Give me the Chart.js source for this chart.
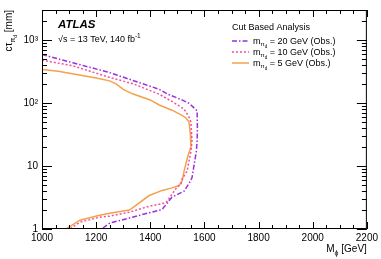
<!DOCTYPE html>
<html>
<head>
<meta charset="utf-8">
<script src="https://cdn.jsdelivr.net/npm/chart.js@4"></script>
<style>
  html, body { margin: 0; padding: 0; background: #fff; }
  #wrap { width: 381px; height: 259px; }
</style>
</head>
<body>
<div id="wrap"><canvas id="myChart" width="381" height="259"></canvas></div>
<script>
// exclusion contours
var mass5 = [1000, 1060, 1128, 1200, 1250, 1275, 1300, 1334, 1400, 1433, 1480, 1514, 1532, 1543, 1548, 1550, 1538, 1525, 1518, 1506, 1480, 1444, 1396, 1323, 1250, 1213, 1140, 1090]
var ctau5 = [340, 320, 283, 250, 225, 200, 165, 140, 112, 93, 77, 65, 58, 50, 32, 20, 14, 8.4, 5.8, 4.9, 4.5, 4.1, 3.4, 2.0, 1.78, 1.65, 1.38, 1.0]

var mass10 = [1000, 1114, 1250, 1340, 1433, 1490, 1525, 1543, 1550, 1554, 1550, 1536, 1518, 1513, 1495, 1458, 1396, 1323, 1250, 1213, 1140, 1103]
var ctau10 = [480, 390, 255, 200, 138, 100, 80, 60, 50, 25, 17, 8.3, 6.3, 5.2, 4.4, 2.6, 2.3, 1.85, 1.6, 1.54, 1.28, 1.0]

var mass20 = [1000, 1114, 1250, 1280, 1433, 1465, 1517, 1545, 1573, 1574, 1573, 1570, 1554, 1543, 1525, 1480, 1444, 1334, 1250, 1220]
var ctau20 = [590, 436, 304, 275, 165, 138, 112, 98, 75, 40, 25, 17, 6.5, 5.3, 4.0, 3.2, 2.05, 1.54, 1.24, 1.0]

var xTicks = [1000, 1200, 1400, 1600, 1800, 2000, 2200]
var yTicks = [1, 10, 100, 1000]
var yTickLabels = ['1', '10', '10²', '10³']

var purple = '#9b30d9'
var pink = '#f2509e'
var orange = '#f5a04c'

function pts(xs, ys) {
    var out = []
    for (var i = 0; i < xs.length; i++) out.push({x: xs[i], y: ys[i]})
    return out
}

var FONT = '"Liberation Sans", Arial, sans-serif'

// draws text with simple subscripts: parts = [[text, size, dy], ...]
function drawParts(ctx, parts, x, y) {
    for (var i = 0; i < parts.length; i++) {
        var p = parts[i]
        ctx.font = p[1] + 'px ' + FONT
        ctx.fillText(p[0], x, y + p[2])
        x += ctx.measureText(p[0]).width
    }
    return x
}
function partsWidth(ctx, parts) {
    var w = 0
    for (var i = 0; i < parts.length; i++) {
        ctx.font = parts[i][1] + 'px ' + FONT
        w += ctx.measureText(parts[i][0]).width
    }
    return w
}

var atlasDecor = {
    id: 'atlasDecor',
    afterDraw: function(chart) {
        var ctx = chart.ctx
        var a = chart.chartArea
        var xs = chart.scales.x, ys = chart.scales.y
        ctx.save()
        ctx.strokeStyle = '#000'
        ctx.lineWidth = 1
        ctx.setLineDash([])
        ctx.strokeRect(a.left + 0.5, a.top + 0.5, a.right - a.left - 1, a.bottom - a.top - 1)

        // x ticks, inward on bottom and top
        ctx.beginPath()
        for (var m = 1000; m <= 2200; m += 50) {
            var px = Math.round(xs.getPixelForValue(m)) + 0.5
            var len = (m % 200 === 0) ? 7 : 4
            ctx.moveTo(px, a.bottom); ctx.lineTo(px, a.bottom - len)
            ctx.moveTo(px, a.top); ctx.lineTo(px, a.top + len)
        }
        // y ticks, inward on left and right
        for (var d = 1; d <= 1000; d *= 10) {
            for (var k = 1; k <= 9; k++) {
                var v = d * k
                if (v > ys.max) break
                var py = Math.round(ys.getPixelForValue(v)) + 0.5
                var l2 = (k === 1) ? 10 : 5
                ctx.moveTo(a.left, py); ctx.lineTo(a.left + l2, py)
                ctx.moveTo(a.right, py); ctx.lineTo(a.right - l2, py)
            }
        }
        ctx.stroke()

        ctx.fillStyle = '#000'
        ctx.textBaseline = 'alphabetic'
        ctx.textAlign = 'left'

        // ATLAS label
        ctx.font = 'bold italic 11.5px ' + FONT
        ctx.fillText('ATLAS', 58, 28)
        drawParts(ctx, [['√s = 13 TeV, 140 fb', 9, 0], ['-1', 6.5, -4]], 58, 42)

        // legend
        ctx.font = '9px ' + FONT
        ctx.fillText('Cut Based Analysis', 232, 30)
        var rows = [
            {c: purple, dash: [5, 2, 1.5, 2], m: '20'},
            {c: pink, dash: [2, 2], m: '10'},
            {c: orange, dash: [], m: '5'}
        ]
        for (var i = 0; i < rows.length; i++) {
            var yy = 41 + i * 11
            ctx.save()
            ctx.strokeStyle = rows[i].c
            ctx.lineWidth = 1.5
            ctx.setLineDash(rows[i].dash)
            ctx.beginPath()
            ctx.moveTo(232, yy); ctx.lineTo(249, yy)
            ctx.stroke()
            ctx.restore()
            drawParts(ctx, [['m', 9, 0], ['π', 6, 2], ['d', 4.5, 4], [' = ' + rows[i].m + ' GeV (Obs.)', 9, 0]], 253, yy + 3)
        }

        // x axis title
        var xt = [['M', 10, 0], ['ϕ', 7, 3], [' [GeV]', 10, 0]]
        drawParts(ctx, xt, a.right - partsWidth(ctx, xt), 252)

        // y axis title, rotated
        var yt = [['cτ', 10, 0], ['π', 7, 3], ['d', 5, 5], [' [mm]', 10, 0]]
        ctx.translate(12, a.top)
        ctx.rotate(-Math.PI / 2)
        drawParts(ctx, yt, -partsWidth(ctx, yt), 0)
        ctx.restore()
    }
}

function drawChart() {
    var ctx = document.getElementById('myChart').getContext('2d')
    var chart = new Chart(ctx, {
        type: 'scatter',
        data: {
            datasets: [{
                label: 'm = 20 GeV (Obs.)',
                data: pts(mass20, ctau20),
                borderColor: purple,
                borderDash: [5, 2, 1.5, 2],
                borderWidth: 1.5,
                showLine: true,
                pointRadius: 0
            }, {
                label: 'm = 10 GeV (Obs.)',
                data: pts(mass10, ctau10),
                borderColor: pink,
                borderDash: [2, 2],
                borderWidth: 1.5,
                showLine: true,
                pointRadius: 0
            }, {
                label: 'm = 5 GeV (Obs.)',
                data: pts(mass5, ctau5),
                borderColor: orange,
                borderWidth: 1.5,
                showLine: true,
                pointRadius: 0
            }]
        },
        options: {
            animation: false,
            responsive: false,
            layout: { padding: { top: 8, right: 12, left: 0, bottom: 0 } },
            plugins: {
                legend: { display: false },
                tooltip: { enabled: false }
            },
            scales: {
                x: {
                    type: 'linear',
                    min: 1000,
                    max: 2200,
                    grid: { display: false, drawTicks: false },
                    border: { display: false },
                    afterBuildTicks: function(s) { s.ticks = xTicks.map(function(v) { return {value: v} }) },
                    afterFit: function(s) { s.height = 30 },
                    ticks: {
                        padding: 3,
                        maxRotation: 0,
                        color: '#000',
                        font: { family: FONT, size: 10 },
                        callback: function(v) { return String(v) }
                    }
                },
                y: {
                    type: 'logarithmic',
                    min: 1,
                    max: 3000,
                    grid: { display: false, drawTicks: false },
                    border: { display: false },
                    afterBuildTicks: function(s) { s.ticks = yTicks.map(function(v) { return {value: v} }) },
                    afterFit: function(s) { s.width = 42 },
                    ticks: {
                        padding: 4,
                        color: '#000',
                        font: { family: FONT, size: 10 },
                        callback: function(v) { return yTickLabels[yTicks.indexOf(v)] }
                    }
                }
            }
        },
        plugins: [atlasDecor]
    })
}
drawChart()
</script>
</body>
</html>
